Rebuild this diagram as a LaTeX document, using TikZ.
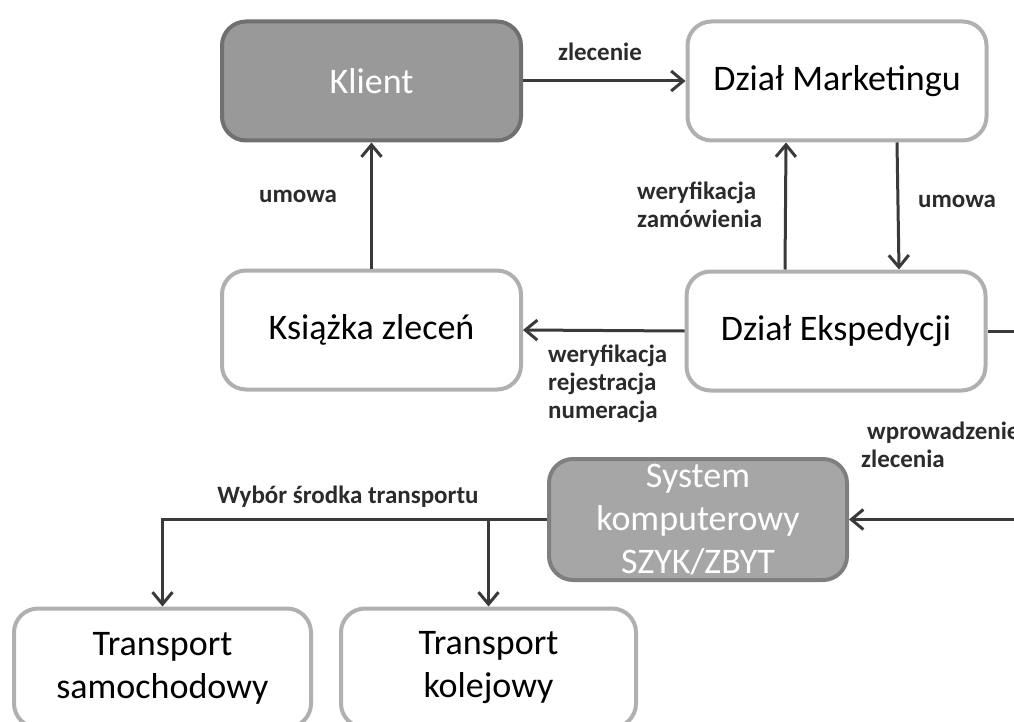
\documentclass[tikz,border=0pt]{standalone}
\usepackage{fontspec}
\setmainfont{Carlito}
\usetikzlibrary{arrows.meta}

\definecolor{darkfill}{HTML}{999999}
\definecolor{darkedge}{HTML}{707070}
\definecolor{midfill}{HTML}{A6A6A6}
\definecolor{midedge}{HTML}{7F7F7F}
\definecolor{lightedge}{HTML}{B0B0B0}
\definecolor{linecol}{HTML}{3A3A3A}
\definecolor{labelcol}{HTML}{2B2B2B}

\tikzset{
  box/.style={draw=lightedge, fill=white, line width=4pt, rounded corners=24pt,
    minimum width=299pt, minimum height=119pt, inner sep=0pt, align=center,
    text=black, font=\fontsize{36}{43}\selectfont},
  darkbox/.style={box, draw=darkedge, fill=darkfill, text=white},
  sysbox/.style={box, draw=midedge, fill=midfill, text=white},
  arr/.style={draw=linecol, line width=3pt,
    -{Straight Barb[length=12pt,width=20pt,line width=3pt]}},
  lbl/.style={text=labelcol, font=\fontsize{25}{28}\selectfont\bfseries, inner sep=0pt},
}

\begin{document}
\begin{tikzpicture}[x=1pt, y=-1pt]
\useasboundingbox (0,0) rectangle (1014,722);

% boxes
\node[darkbox] (klient) at (371.5,81) {Klient};
\node[box] (mark) at (837,81) {Dział Marketingu};
\node[box] (ksiazka) at (371.5,330) {Książka zleceń};
\node[box] (eksp) at (836,331) {Dział Ekspedycji};
\node[sysbox, minimum width=298pt, minimum height=121pt] (sys) at (698,519.5)
  {\raisebox{-3pt}{System}\\\raisebox{-3pt}{komputerowy}\\\raisebox{-3pt}{SZYK/ZBYT}};
\node[box, minimum width=297pt] (samoch) at (162.5,668)
  {\raisebox{-4pt}{Transport}\\\raisebox{-4pt}{samochodowy}};
\node[box, minimum width=295pt] (kolej) at (488.5,668)
  {\raisebox{-4pt}{Transport}\\\raisebox{-4pt}{kolejowy}};

% connectors
\draw[arr] (klient.east) -- (mark.west);
\draw[arr] (ksiazka.north) -- (klient.south);
\draw[arr] ([xshift=-51pt]eksp.north) -- ([xshift=-51pt]mark.south);
\draw[arr] ([xshift=60pt]mark.south) -- ([xshift=63pt]eksp.north);
\draw[arr] (eksp.west) -- (ksiazka.east);
\coordinate (edgeA) at (1040,331);
\coordinate (edgeB) at (1040,519.5);
\draw[arr] (eksp.east) -- (edgeA) -- (edgeB) -- (sys.east);
\draw[arr] (sys.west) -| (samoch.north);
\draw[arr] (sys.west -| kolej.north) -- (kolej.north);

% labels
\node[lbl] (lzlec) at (600,52) {zlecenie};
\node[lbl] (lumowa1) at (298,196) {umowa};
\node[lbl, anchor=west, align=left] (lweryf) at (637,205) {weryfikacja\\zamówienia};
\node[lbl] (lumowa2) at (957,201) {umowa};
\node[lbl, anchor=west, align=left] (lrej) at (548,384) {weryfikacja\\rejestracja\\numeracja};
\node[lbl, anchor=west, align=left] (lwpr) at (861,445) {\hspace*{6pt}wprowadzenie\\zlecenia};
\node[lbl] (lwyb) at (348,497) {Wybór środka transportu};
\end{tikzpicture}
\end{document}
